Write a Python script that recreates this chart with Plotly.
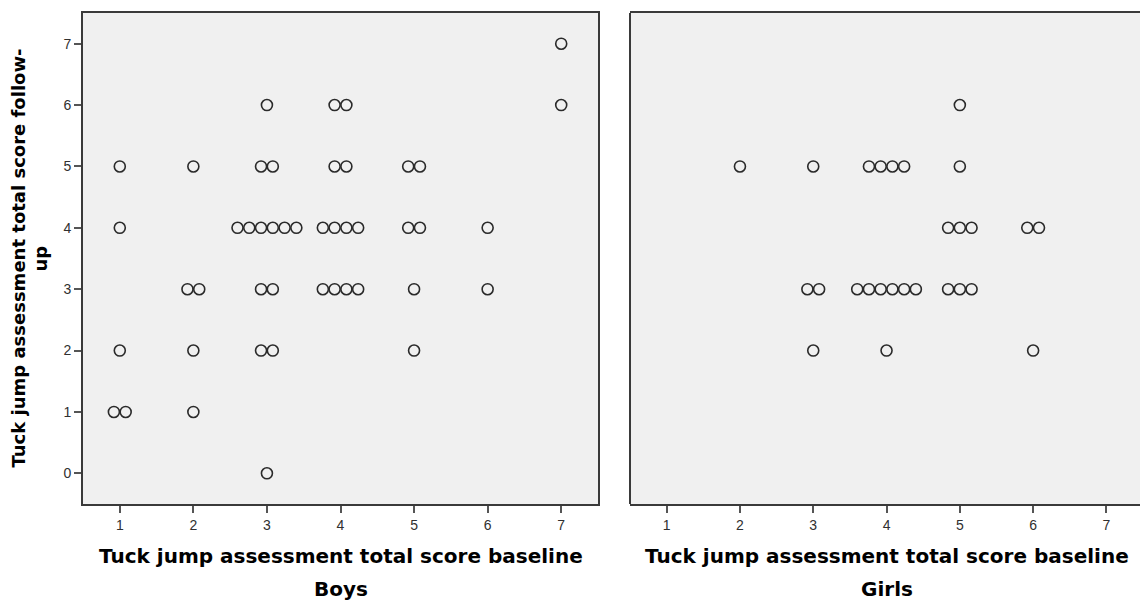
import plotly.graph_objects as go

# Boys: (baseline, follow-up, count)
boys_baseline = [1, 1, 1, 1, 2, 2, 2, 2, 3, 3, 3, 3, 3, 3, 4, 4, 4, 4, 5, 5, 5, 5, 6, 6, 7, 7]
boys_followup = [5, 4, 2, 1, 5, 3, 2, 1, 6, 5, 4, 3, 2, 0, 6, 5, 4, 3, 5, 4, 3, 2, 4, 3, 7, 6]
boys_count    = [1, 1, 1, 2, 1, 2, 1, 1, 1, 2, 6, 2, 2, 1, 2, 2, 4, 4, 2, 2, 1, 1, 1, 1, 1, 1]

# Girls
girls_baseline = [2, 3, 3, 3, 4, 4, 4, 5, 5, 5, 5, 6, 6]
girls_followup = [5, 5, 3, 2, 5, 3, 2, 6, 5, 4, 3, 4, 2]
girls_count    = [1, 1, 2, 1, 4, 6, 1, 1, 1, 3, 3, 2, 1]

x_ticks = [1, 2, 3, 4, 5, 6, 7]
y_ticks = [0, 1, 2, 3, 4, 5, 6, 7]

x_title = "Tuck jump assessment total score baseline"
y_title_1 = "Tuck jump assessment total score follow-"
y_title_2 = "up"
panel_names = ["Boys", "Girls"]

STEP = 0.16  # horizontal stacking step for coincident points (x units)


def stack(bx, by, cnt):
    xs, ys = [], []
    for x, y, n in zip(bx, by, cnt):
        for i in range(n):
            xs.append(x + (i - (n - 1) / 2) * STEP)
            ys.append(y)
    return xs, ys


bxs, bys = stack(boys_baseline, boys_followup, boys_count)
gxs, gys = stack(girls_baseline, girls_followup, girls_count)

marker = dict(symbol="circle-open", size=11, color="#2a2a2a", line=dict(width=1.6))

fig = go.Figure()
fig.add_trace(go.Scatter(x=bxs, y=bys, mode="markers", marker=marker,
                         xaxis="x", yaxis="y", showlegend=False, hoverinfo="x+y"))
fig.add_trace(go.Scatter(x=gxs, y=gys, mode="markers", marker=marker,
                         xaxis="x2", yaxis="y2", showlegend=False, hoverinfo="x+y"))

W, H = 1140, 602
ml, mr, mt, mb = 83, 0, 13, H - 504
pw = W - ml - mr
d1 = [0, (598 - 83) / pw]
d2 = [(630 - 83) / pw, 1]

LINE = "#3a3a3a"
tickfont = dict(family="Liberation Sans, Arial, sans-serif", size=14, color="#303030")
axis_common = dict(showgrid=False, zeroline=False, ticklen=7,
                   tickwidth=2, tickcolor="#555555", tickfont=tickfont,
                   linecolor=LINE, linewidth=2)

fig.update_layout(
    width=W, height=H,
    margin=dict(l=ml, r=mr, t=mt, b=mb),
    paper_bgcolor="white",
    plot_bgcolor="#f0f0f0",
    xaxis=dict(domain=d1, range=[0.5, 7.5], tickvals=x_ticks, mirror=True, showline=True,
               anchor="y", ticks="outside", **axis_common),
    yaxis=dict(domain=[0, 1], range=[-0.5, 7.5], tickvals=y_ticks, mirror=True, showline=True,
               anchor="x", ticks="outside", **axis_common),
    xaxis2=dict(domain=d2, range=[0.5, 7.458], tickvals=x_ticks, mirror=True, showline=True,
                anchor="y2", ticks="outside", **axis_common),
    yaxis2=dict(domain=[0, 1], range=[-0.5, 7.5], tickvals=y_ticks, showline=False,
                anchor="x2", showticklabels=False, ticks="", **axis_common),
)
# left border of the right panel (its right border lies outside the picture)
fig.add_shape(type="line", xref="x2 domain", yref="y2 domain", x0=0, x1=0, y0=0, y1=1,
              line=dict(color=LINE, width=2), layer="above")

titlefont = dict(family="DejaVu Sans, sans-serif", size=20, color="black")
ytitlefont = dict(family="DejaVu Sans, sans-serif", size=18, color="black")

ann = []
for dom, name in zip([d1, [d2[0], d2[0] + (d1[1] - d1[0])]], panel_names):
    cx = (dom[0] + dom[1]) / 2
    ann.append(dict(text="<b>%s</b>" % x_title, x=cx, y=0, xref="paper", yref="paper",
                    xanchor="center", yanchor="middle", yshift=-52, showarrow=False,
                    font=titlefont))
    ann.append(dict(text="<b>%s</b>" % name, x=cx, y=0, xref="paper", yref="paper",
                    xanchor="center", yanchor="middle", yshift=-85, showarrow=False,
                    font=titlefont))
ann.append(dict(text="<b>%s</b>" % y_title_1, x=0, y=0.5, xref="paper", yref="paper",
                xanchor="center", yanchor="middle", xshift=-65, textangle=-90,
                showarrow=False, font=ytitlefont))
ann.append(dict(text="<b>%s</b>" % y_title_2, x=0, y=0.5, xref="paper", yref="paper",
                xanchor="center", yanchor="middle", xshift=-43, textangle=-90,
                showarrow=False, font=ytitlefont))
fig.update_layout(annotations=ann)

fig.write_html("out.html",
               config={"displayModeBar": False},
               post_script="document.body.style.margin='0';"
                           "document.body.style.overflow='hidden';")
